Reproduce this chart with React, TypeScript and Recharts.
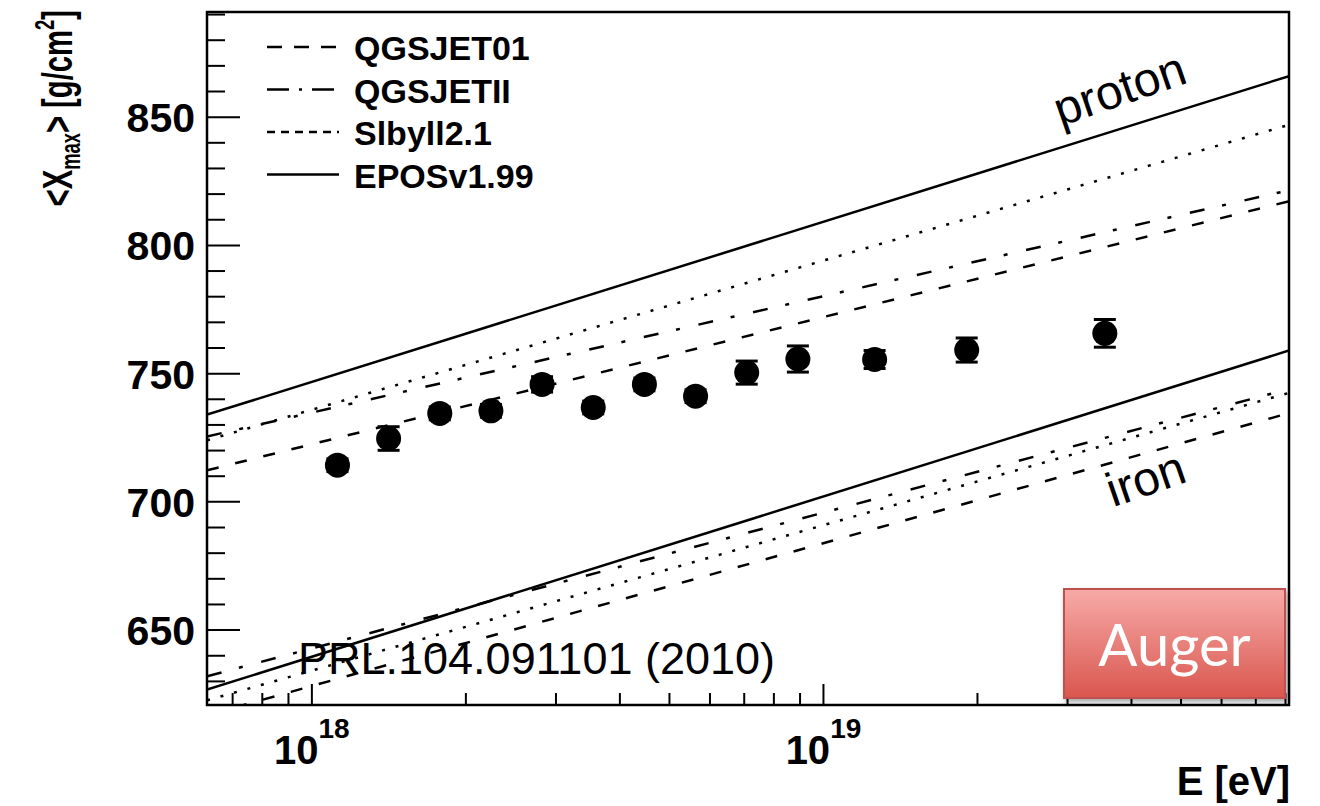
import React from "react";
import { ComposedChart, ErrorBar, Legend, Line, ReferenceArea, Scatter, XAxis, YAxis } from "recharts";

// lg(E/eV) at the left and right edge of the frame; model lines are straight in lg E
const LGE_EDGES = [17.795, 19.91];
const Y_DOMAIN = [620.8, 891];

// <Xmax> of the model lines at the two edges
const EPOS_P = [734, 866];
const SIBYLL_P = [724, 847];
const QGSII_P = [725.5, 821.5];
const QGS01_P = [712.3, 817.2];
const EPOS_FE = [626.8, 759];
const SIBYLL_FE = [622.6, 742.5];
const QGSII_FE = [632, 744];
const QGS01_FE = [616.8, 734.6];

// Auger measurements
const AUGER_LGE = [18.05, 18.15, 18.25, 18.35, 18.45, 18.55, 18.65, 18.75, 18.85, 18.95, 19.1, 19.28, 19.55];
const AUGER_XMAX = [714.3, 724.7, 734.5, 735.5, 745.8, 736.8, 745.8, 741.2, 750.4, 755.7, 755.5, 759.2, 765.7];
const AUGER_ERR = [2.5, 4.6, 2.5, 2.5, 3, 2.5, 2.5, 2.5, 4.5, 5.1, 3.5, 4.7, 5.4];

const X_TICK_E = [7e17, 8e17, 9e17, 1e18, 2e18, 3e18, 4e18, 5e18, 6e18, 7e18, 8e18, 9e18, 1e19, 2e19, 3e19, 4e19, 5e19, 6e19, 7e19, 8e19];
const Y_TICKS = [630, 640, 650, 660, 670, 680, 690, 700, 710, 720, 730, 740, 750, 760, 770, 780, 790, 800, 810, 820, 830, 840, 850, 860, 870, 880, 890];

const MODELS = [
  { name: "QGSJET01", proton: QGS01_P, iron: QGS01_FE, dash: "12 17", legendDash: "15 12" },
  { name: "QGSJETII", proton: QGSII_P, iron: QGSII_FE, dash: "15 18 4 19", legendDash: "22 10 3 10" },
  { name: "Slbyll2.1", proton: SIBYLL_P, iron: SIBYLL_FE, dash: "3 11", legendDash: "8 6" },
  { name: "EPOSv1.99", proton: EPOS_P, iron: EPOS_FE, dash: undefined, legendDash: undefined },
];

const FONT = "'Liberation Sans', Arial, Helvetica, sans-serif";

const toLine = (vals: number[]) => LGE_EDGES.map((x, i) => ({ x, y: vals[i] }));
const points = AUGER_LGE.map((x, i) => ({ x, y: AUGER_XMAX[i], err: AUGER_ERR[i] }));

function XTick({ x, y, payload }: any) {
  const v = payload.value;
  const exp = Math.round(v);
  const major = Math.abs(v - exp) < 1e-6;
  return (
    <g>
      <line x1={x} x2={x} y1={y} y2={y - (major ? 21 : 12)} stroke="#000" strokeWidth={2} />
      {major && (
        <text x={x} y={y + 59} textAnchor="middle" fontFamily={FONT} fontWeight="bold" fontSize={40} fill="#000">
          <tspan>10</tspan>
          <tspan dy={-26} fontSize={28}>{exp}</tspan>
        </text>
      )}
    </g>
  );
}

function YTick({ x, y, payload }: any) {
  const major = payload.value % 50 === 0;
  return (
    <g>
      <line x1={x} x2={x + (major ? 33 : 18)} y1={y} y2={y} stroke="#000" strokeWidth={2} />
      {major && (
        <text x={x - 12} y={y + 15} textAnchor="end" fontFamily={FONT} fontWeight="bold" fontSize={41} fill="#000">
          {payload.value}
        </text>
      )}
    </g>
  );
}

function ModelLegend() {
  return (
    <svg width={600} height={210} style={{ display: "block" }}>
      {MODELS.map((m, i) => {
        const cy = 47 + i * 42.5;
        return (
          <g key={m.name}>
            <line x1={267} x2={339} y1={cy} y2={cy} stroke="#000" strokeWidth={2.5} strokeDasharray={m.legendDash} />
            <text x={354} y={cy + 13} fontFamily={FONT} fontWeight="bold" fontSize={34} fill="#000">
              {m.name}
            </text>
          </g>
        );
      })}
    </svg>
  );
}

export default function App() {
  const ticksX = X_TICK_E.map((e) => Math.log10(e));
  return (
    <div style={{ position: "absolute", left: 0, top: 0, width: 1320, height: 806, background: "#fff" }}>
      <ComposedChart width={1320} height={806} margin={{ top: 12, right: 31, bottom: 61, left: 147 }}>
        <XAxis
          type="number"
          dataKey="x"
          domain={LGE_EDGES}
          allowDataOverflow
          ticks={ticksX}
          interval={0}
          height={40}
          tickSize={0}
          tickMargin={0}
          tickLine={false}
          axisLine={false}
          tick={<XTick />}
        />
        <YAxis
          type="number"
          dataKey="y"
          domain={Y_DOMAIN}
          allowDataOverflow
          ticks={Y_TICKS}
          interval={0}
          width={60}
          tickSize={0}
          tickMargin={0}
          tickLine={false}
          axisLine={false}
          tick={<YTick />}
        />
        <Legend
          layout="vertical"
          align="center"
          verticalAlign="middle"
          content={() => <ModelLegend />}
          wrapperStyle={{ left: 0, top: 0, width: 600, height: 210 }}
        />
        {MODELS.map((m) => (
          <Line
            key={m.name + "-p"}
            data={toLine(m.proton)}
            dataKey="y"
            stroke="#000"
            strokeWidth={2.5}
            strokeDasharray={m.dash}
            dot={false}
            activeDot={false}
            isAnimationActive={false}
            legendType="none"
          />
        ))}
        {MODELS.map((m) => (
          <Line
            key={m.name + "-fe"}
            data={toLine(m.iron)}
            dataKey="y"
            stroke="#000"
            strokeWidth={2.5}
            strokeDasharray={m.dash}
            dot={false}
            activeDot={false}
            isAnimationActive={false}
            legendType="none"
          />
        ))}
        <Scatter
          data={points}
          dataKey="y"
          fill="#000"
          isAnimationActive={false}
          legendType="none"
          shape={(p: any) => <circle cx={p.cx} cy={p.cy} r={12.5} fill="#000" />}
        >
          <ErrorBar dataKey="err" direction="y" width={11} stroke="#000" strokeWidth={3} />
        </Scatter>
        <ReferenceArea
          x1={LGE_EDGES[0]}
          x2={LGE_EDGES[1]}
          y1={Y_DOMAIN[0]}
          y2={Y_DOMAIN[1]}
          fill="none"
          stroke="#000"
          strokeWidth={2.5}
        />
      </ComposedChart>

      <svg width={1320} height={806} style={{ position: "absolute", left: 0, top: 0, pointerEvents: "none" }}>
        <text
          transform="translate(72,10) rotate(-90) scale(0.68,1)"
          textAnchor="end"
          fontFamily={FONT}
          fontWeight="bold"
          fontSize={43}
          fill="#000"
        >
          <tspan>&lt;X</tspan>
          <tspan fontSize={27} dy={8}>max</tspan>
          <tspan dy={-8}>&gt; [g/cm</tspan>
          <tspan fontSize={27} dy={-18}>2</tspan>
          <tspan dy={18}>]</tspan>
        </text>
        <text x={1290} y={795} textAnchor="end" fontFamily={FONT} fontWeight="bold" fontSize={40} fill="#000">
          E [eV]
        </text>
        <text transform="translate(1121,93) rotate(-19)" y={12} textAnchor="middle" fontFamily={FONT} fontSize={48} fill="#000">
          proton
        </text>
        <text transform="translate(1147,483) rotate(-19)" y={12} textAnchor="middle" fontFamily={FONT} fontSize={48} fill="#000">
          iron
        </text>
        <text x={298} y={674} fontFamily={FONT} fontSize={45} fill="#000">
          PRL.104.091101 (2010)
        </text>
      </svg>

      <div
        style={{
          position: "absolute",
          left: 1063,
          top: 588,
          width: 219,
          height: 107,
          border: "2px solid #c0504d",
          background: "linear-gradient(#f7aaa7, #d9574f)",
          boxShadow: "2px 3px 5px rgba(0,0,0,0.35)",
          color: "#fff",
          fontFamily: "Lato, 'Open Sans', sans-serif",
          fontSize: 58,
          lineHeight: "107px",
          textAlign: "center",
        }}
      >
        Auger
      </div>
    </div>
  );
}
